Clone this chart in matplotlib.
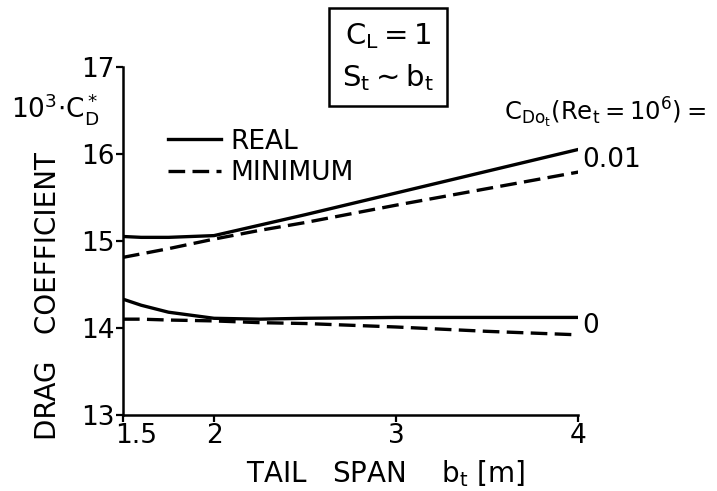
import matplotlib.pyplot as plt
import matplotlib.transforms as mtransforms

plt.rcParams['font.family'] = 'DejaVu Sans'

span = [1.5, 1.6, 1.75, 2.0, 2.25, 2.5, 3.0, 3.5, 4.0]
real_001 = [15.05, 15.04, 15.04, 15.06, 15.18, 15.30, 15.55, 15.80, 16.05]
min_001 = [14.81, 14.85, 14.91, 15.02, 15.12, 15.21, 15.41, 15.60, 15.79]
real_0 = [14.33, 14.26, 14.18, 14.11, 14.10, 14.11, 14.12, 14.12, 14.12]
min_0 = [14.10, 14.10, 14.09, 14.08, 14.06, 14.05, 14.01, 13.96, 13.92]

fig = plt.figure(figsize=(7.17, 4.91), dpi=100)
ax = fig.add_axes([0.1715, 0.155, 0.635, 0.709])

lw = 2.4
ax.plot(span, real_001, color='black', lw=lw, label='REAL')
ax.plot(span, min_001, color='black', lw=lw, ls=(0, (5, 2.2)), label='MINIMUM')
ax.plot(span, real_0, color='black', lw=lw)
ax.plot(span, min_0, color='black', lw=lw, ls=(0, (5, 2.2)))

ax.set_xlim(1.5, 4)
ax.set_ylim(13, 17)
ax.set_xticks([1.5, 2, 3, 4])
ax.set_xticklabels(['1.5', '2', '3', '4'])
ax.set_yticks([13, 14, 15, 16, 17])
for s in ['top', 'right']:
    ax.spines[s].set_visible(False)
for s in ['left', 'bottom']:
    ax.spines[s].set_linewidth(1.8)
ax.tick_params(labelsize=19, width=1.6, length=5, pad=1)

# shift the "1.5" label so it clears the "13"
lab = ax.get_xticklabels()[0]
lab.set_ha('left')
lab.set_transform(lab.get_transform() +
                  mtransforms.ScaledTranslation(-0.08, 0, fig.dpi_scale_trans))

ax.set_xlabel(r'TAIL   SPAN    $\mathregular{b_t}$ [m]', fontsize=20)
ax.xaxis.set_label_coords(0.576, -0.125)
ax.set_ylabel('DRAG   COEFFICIENT', fontsize=20)
ax.yaxis.set_label_coords(-0.135, 0.34)

fig.text(0.015, 0.76, r'$\mathregular{10^3{\cdot}C_D^*}$', fontsize=19)
fig.text(0.541, 0.884, '$\\mathregular{C_L = 1}$\n$\\mathregular{S_t \\sim b_t}$',
         fontsize=21, linespacing=1.45, ha='center', va='center',
         bbox=dict(boxstyle='square,pad=0.45', fc='white', ec='black', lw=1.8))
fig.text(0.703, 0.755, r'$\mathregular{C_{Do_t}(Re_t = 10^6) =}$', fontsize=17.5)

ax.text(4.02, real_001[-1] - 0.12, '0.01', fontsize=19, va='center')
ax.text(4.02, min_0[-1] + 0.1, '0', fontsize=19, va='center')

ax.legend(loc='upper left', bbox_to_anchor=(0.07, 0.86), frameon=False,
          fontsize=19, handlelength=2.0, handletextpad=0.35, labelspacing=0.2,
          borderpad=0)

fig.savefig('out.png', dpi=100)
